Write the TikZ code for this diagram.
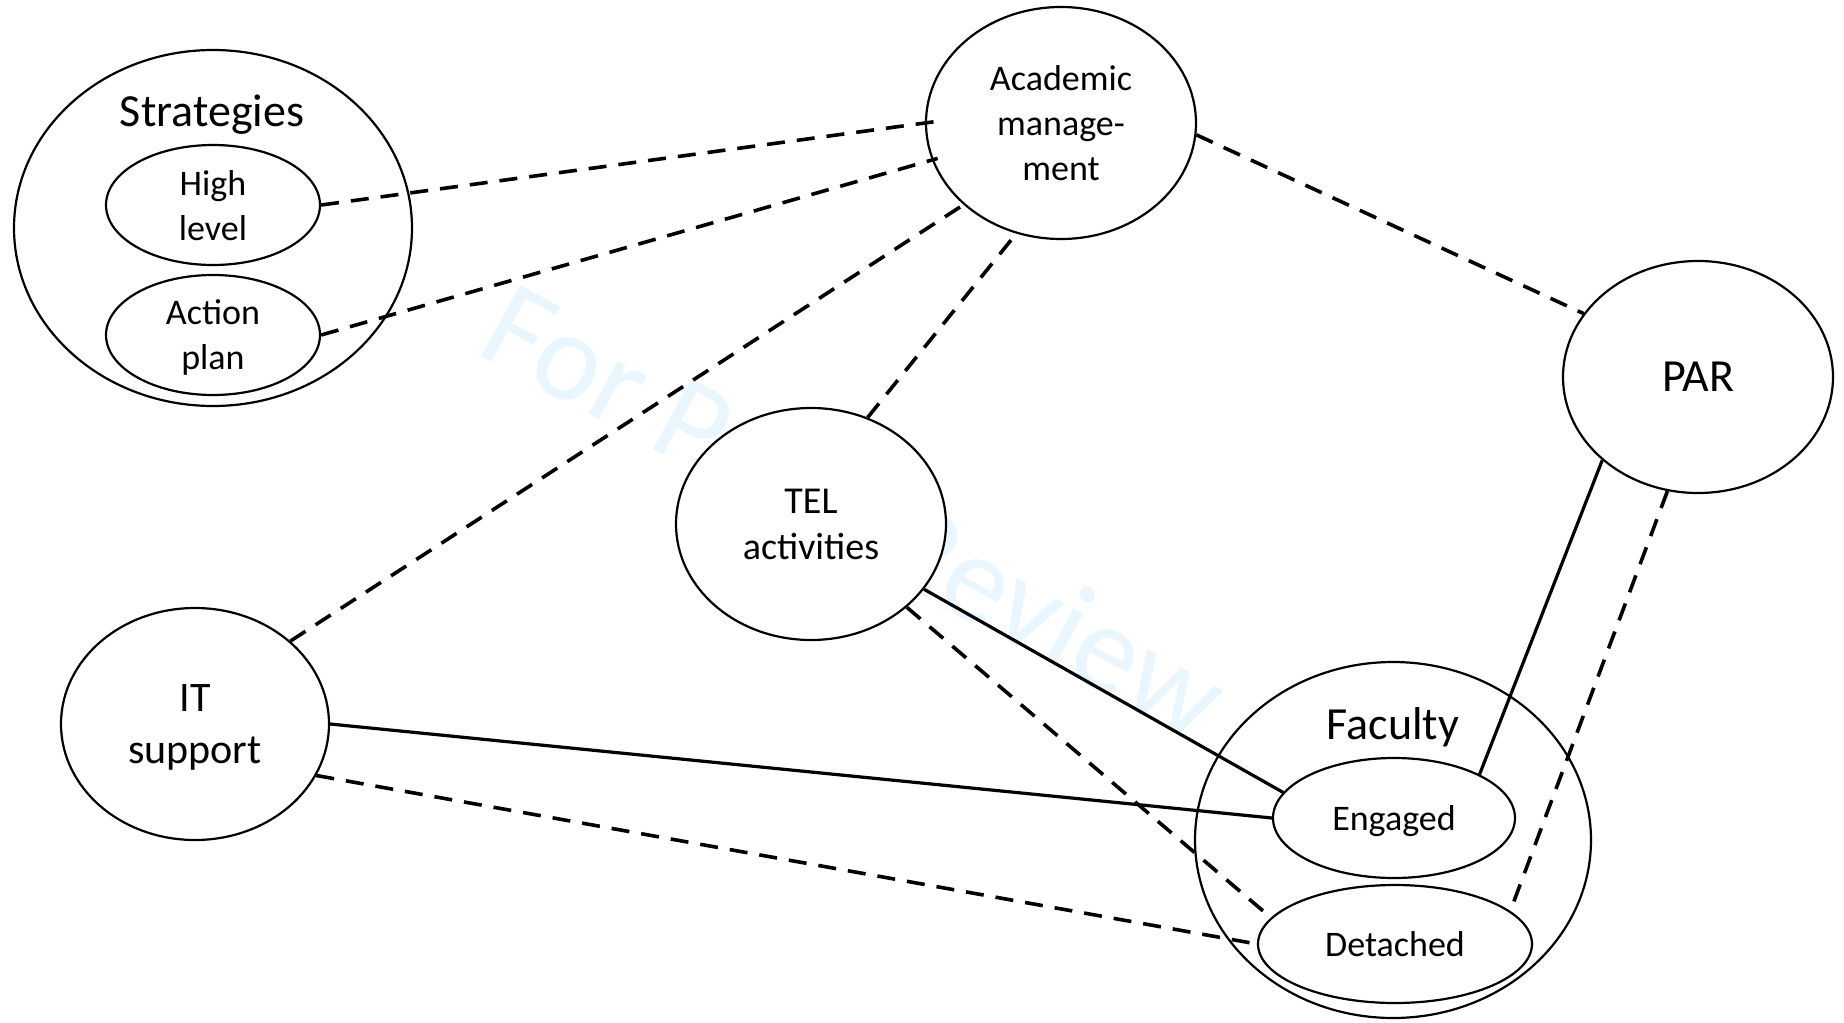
\documentclass[tikz,border=0pt]{standalone}
\usepackage{fontspec}
\setmainfont{Carlito}
\usetikzlibrary{shapes.geometric}
\definecolor{wm}{RGB}{234,246,253}
\begin{document}
\begin{tikzpicture}[x=0.5pt,y=-0.5pt,
  oval/.style={draw, fill=white, ellipse, line width=1.1pt, inner sep=0pt, align=center, text depth=0pt},
  small/.style={font=\fontsize{18}{22.5}\selectfont},
  mid/.style={font=\fontsize{21}{26}\selectfont},
  big/.style={font=\fontsize{23}{28}\selectfont},
  dlink/.style={line width=1.8pt, dash pattern=on 9pt off 6pt},
  slink/.style={line width=1.6pt}
]
\fill[white] (0,0) rectangle (1844,1023);
\useasboundingbox (0,0) rectangle (1844,1023);

% watermark
\node[rotate=-28.5, anchor=base west, text=wm, inner sep=0pt,
      font=\fontsize{63}{63}\selectfont] (wmark) at (474,352) {For Peer Review};

% Strategies
\node[oval, minimum width=199pt, minimum height=178pt] (strat) at (213,228) {};
\node[big, inner sep=0pt] (stratlbl) at (212,115) {Strategies};
\node[oval, small, minimum width=107pt, minimum height=60pt] (high) at (213,205) {High\\level};
\node[oval, small, minimum width=107pt, minimum height=60pt] (action) at (213,335) {Action\\plan};

% Other nodes
\node[oval, small, minimum width=135pt, minimum height=116pt] (acad) at (1061,123) {Academic\\manage-\\ment};
\node[oval, big, minimum width=135pt, minimum height=116pt] (par) at (1698,377) {PAR};
\node[oval, font=\fontsize{19}{23}\selectfont, minimum width=135pt, minimum height=116pt] (tel) at (811,524) {TEL\\activities};
\node[oval, mid, minimum width=134pt, minimum height=116pt] (it) at (195,724) {IT\\support};

% Faculty
\node[oval, minimum width=198pt, minimum height=178pt] (fac) at (1393,840) {};
\node[big, inner sep=0pt] (faclbl) at (1393,727) {Faculty};
\node[oval, small, minimum width=121pt, minimum height=60pt] (eng) at (1394,818) {Engaged};
\node[oval, small, minimum width=137pt, minimum height=59pt] (det) at (1395,944) {Detached};

% Connectors
\draw[dlink, shorten >=-6pt] (high.east) -- (acad.west);
\draw[dlink, shorten >=-3pt] (action.east) -- (acad.196);
\draw[dlink] (it.41) -- (acad.220);
\draw[dlink] (tel.62) -- (acad.248);
\draw[dlink] (acad.355) -- (par.151);
\draw[slink] (par.221) -- (eng.27);
\draw[dlink] (par.255) -- (det.16);
\draw[slink] (tel.330) -- (eng.167);
\draw[dlink] (tel.319) -- (det.168);
\draw[slink] (it.east) -- (eng.west);
\draw[dlink] (it.337) -- (det.west);
\end{tikzpicture}
\end{document}
